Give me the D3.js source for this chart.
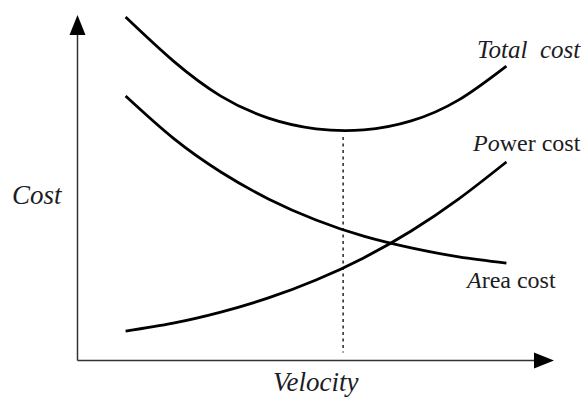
<!DOCTYPE html>
<html>
<head>
<meta charset="utf-8">
<script src="https://cdn.jsdelivr.net/npm/d3@7"></script>
<style>
  body { margin: 0; background: #fff; }
  svg text { font-family: 'Liberation Serif', 'DejaVu Serif', serif; }
</style>
</head>
<body>
<script>
// velocity samples (arbitrary units, curves are conceptual)
var velocity = [1, 2, 3, 4, 5, 6, 7, 8, 9];
var totalCost = [9.94, 8.67, 7.65, 7.01, 6.70, 6.67, 6.93, 7.54, 8.52];
var areaCost  = [7.65, 6.43, 5.45, 4.67, 4.06, 3.59, 3.25, 2.99, 2.81];
var powerCost = [0.84, 1.07, 1.39, 1.80, 2.32, 2.96, 3.74, 4.67, 5.74];
var optimum = 5.57;   // velocity at the total cost minimum

var w = 588, h = 398;

var svg = d3.select('body').append('svg')
    .attr('width', w)
    .attr('height', h);

var xScale = d3.scaleLinear().domain([0, 10]).range([78, 554]);
var yScale = d3.scaleLinear().domain([0, 10]).range([360, 15]);

var x0 = xScale(0) - 0.5, y0 = yScale(0) + 0.5;

// axes with arrow heads
svg.append('line')
  .attr('x1', x0).attr('y1', y0)
  .attr('x2', x0).attr('y2', yScale(10) + 18)
  .attr('stroke', '#333').attr('stroke-width', 1.5);
svg.append('line')
  .attr('x1', x0).attr('y1', y0)
  .attr('x2', xScale(10) - 18).attr('y2', y0)
  .attr('stroke', '#333').attr('stroke-width', 1.5);

svg.append('path')
  .attr('d', 'M' + x0 + ',' + yScale(10) + 'L' + (x0 - 8) + ',' + (yScale(10) + 20) + 'L' + (x0 + 8) + ',' + (yScale(10) + 20) + 'Z')
  .attr('fill', '#000');
svg.append('path')
  .attr('d', 'M' + xScale(10) + ',' + y0 + 'L' + (xScale(10) - 20) + ',' + (y0 - 8) + 'L' + (xScale(10) - 20) + ',' + (y0 + 8) + 'Z')
  .attr('fill', '#000');

// dotted line at the optimum
svg.append('line')
  .attr('x1', xScale(optimum)).attr('x2', xScale(optimum))
  .attr('y1', yScale(d3.min(totalCost)) + 7)
  .attr('y2', y0 - 8)
  .attr('stroke', '#333')
  .attr('stroke-width', 1.6)
  .attr('stroke-dasharray', '3,3.5');

// curves
var line = d3.line()
  .x(function (d, i) { return xScale(velocity[i]); })
  .y(function (d) { return yScale(d); })
  .curve(d3.curveNatural);

[totalCost, areaCost, powerCost].forEach(function (s) {
  svg.append('path')
    .attr('d', line(s))
    .attr('fill', 'none')
    .attr('stroke', '#000')
    .attr('stroke-width', 2.8);
});

// labels
function label(x, y, size) {
  return svg.append('text')
    .attr('x', x).attr('y', y)
    .attr('font-size', size)
    .attr('fill', '#1c1c24');
}

label(477, 58, 25)
  .attr('font-style', 'italic')
  .style('white-space', 'pre')
  .text('Total  cost');

var pw = label(473, 151, 24);
pw.append('tspan').attr('font-style', 'italic').text('Po');
pw.append('tspan').text('wer cost');

var ar = label(467, 288, 24);
ar.append('tspan').attr('font-style', 'italic').text('A');
ar.append('tspan').text('rea cost');

label(12, 204, 27).attr('font-style', 'italic').text('Cost');

label(273, 391, 27).attr('font-style', 'italic').text('Velocity');
</script>
</body>
</html>
